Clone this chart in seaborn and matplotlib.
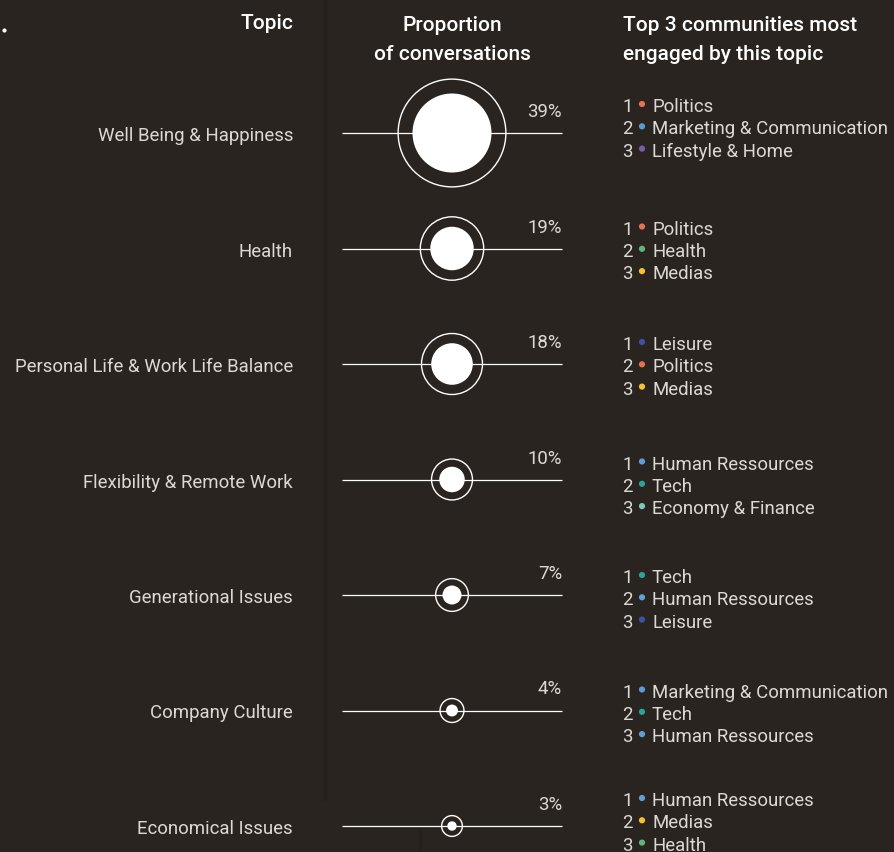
import numpy as np
import pandas as pd
import matplotlib
matplotlib.use("Agg")
import matplotlib.pyplot as plt
import seaborn as sns

topics = ["Well Being & Happiness", "Health", "Personal Life & Work Life Balance",
          "Flexibility & Remote Work", "Generational Issues", "Company Culture",
          "Economical Issues"]
shares = [39, 19, 18, 10, 7, 4, 3]
top3 = [
    ["Politics", "Marketing & Communication", "Lifestyle & Home"],
    ["Politics", "Health", "Medias"],
    ["Leisure", "Politics", "Medias"],
    ["Human Ressources", "Tech", "Economy & Finance"],
    ["Tech", "Human Ressources", "Leisure"],
    ["Marketing & Communication", "Tech", "Human Ressources"],
    ["Human Ressources", "Medias", "Health"],
]
community_colors = {
    "Politics": "#e8704f",
    "Marketing & Communication": "#5a9bd5",
    "Lifestyle & Home": "#7b5aa6",
    "Health": "#5fb57a",
    "Medias": "#f2c230",
    "Leisure": "#3f52a0",
    "Human Ressources": "#5e9fd8",
    "Tech": "#2aa39b",
    "Economy & Finance": "#7cc8bd",
}

BG = "#29241f"
TXT = "#dcd9d5"
sns.set_theme(style="white", rc={"axes.facecolor": BG, "figure.facecolor": BG})
plt.rcParams["font.family"] = ["Roboto", "DejaVu Sans"]

fig = plt.figure(figsize=(8.94, 8.53), dpi=100)
ax = fig.add_axes([0, 0, 1, 1])
ax.set_xlim(0, 894)
ax.set_ylim(853, 0)
ax.axis("off")

# faint panel seams
ax.plot([325, 325], [0, 800], color="#25211c", lw=2.5, zorder=0)
ax.plot([420, 420], [830, 853], color="#25211c", lw=2.5, zorder=0)

row_y = 134 + 115.5 * np.arange(len(topics))
block_off = [-29, -22, -22, -18, -20, -21, -28]
cx = 452
px = 0.72  # points per pixel at 100 dpi

df = pd.DataFrame({"topic": topics, "share": shares, "y": row_y, "x": cx})
r_in = 4.7 * (df["share"] / 3) ** 0.83
r_out = 1.25 * r_in + 4.5

# guide lines
ax.hlines(df["y"], 342, 562, color="white", lw=0.9, zorder=1)
# outer rings
sns.scatterplot(data=df, x="x", y="y", s=(2 * r_out * px) ** 2, facecolor="none",
                edgecolor="white", linewidth=1.0, ax=ax, zorder=2, legend=False)
# filled discs
sns.scatterplot(data=df, x="x", y="y", s=(2 * r_in * px) ** 2, color="white",
                edgecolor="white", linewidth=0, ax=ax, zorder=3, legend=False)

FS = 13.4
for t, v, y in zip(topics, shares, row_y):
    ax.text(293, y + 2, t, ha="right", va="center", color=TXT, fontsize=FS)
    ax.text(562, y - 13, f"{v}%", ha="right", va="bottom", color=TXT, fontsize=FS)

# top 3 communities
rows = []
for y, off, comms in zip(row_y, block_off, top3):
    for k, c in enumerate(comms):
        rows.append({"rank": k + 1, "community": c, "y": y + off + 22.3 * k})
cdf = pd.DataFrame(rows)
cdf["x"] = 642
sns.scatterplot(data=cdf, x="x", y="y", hue="community", palette=community_colors,
                s=20, linewidth=0, ax=ax, legend=False, zorder=3)
for _, r in cdf.iterrows():
    ax.text(622, r["y"] + 2, str(r["rank"]), ha="left", va="center", color=TXT, fontsize=FS)
    ax.text(652, r["y"] + 2, r["community"], ha="left", va="center", color=TXT, fontsize=FS)

# headers
ax.text(293, 23, "Topic", ha="right", va="center", color="white", fontsize=15,
        fontweight="medium")
ax.text(452, 40, "Proportion\nof conversations", ha="center", va="center", color="white",
        fontsize=15, fontweight="medium", linespacing=1.7)
ax.text(623, 40, "Top 3 communities most\nengaged by this topic", ha="left", va="center",
        color="white", fontsize=15, fontweight="medium", linespacing=1.7)
ax.scatter([4], [31], s=9, color="white", linewidth=0)

fig.savefig("out.png", dpi=100, facecolor=BG)
